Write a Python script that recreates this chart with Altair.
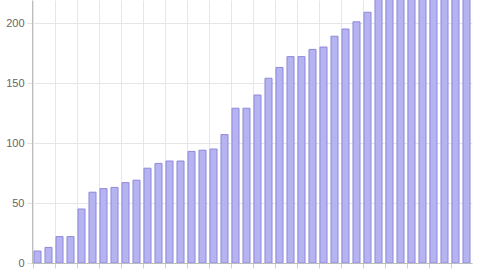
import altair as alt
import pandas as pd

categories = [f"{i+1}" for i in range(40)]
values = [10, 13, 22, 22, 45, 59, 62, 63, 67, 69,
          79, 83, 85, 85, 93, 94, 95, 107, 129, 129,
          140, 154, 163, 172, 172, 178, 180, 189, 195, 201,
          209, 221, 227, 233, 238, 244, 250, 255, 261, 268]
y_ticks = [0, 50, 100, 150, 200]

df = pd.DataFrame({"cat": categories, "val": values})

chart = alt.Chart(df).mark_bar(
    clip=True, fill="#b6b3f1", stroke="#8e88da", strokeWidth=1
).encode(
    x=alt.X("cat:N", sort=categories, title=None,
            scale=alt.Scale(paddingInner=0.36, paddingOuter=0.18),
            axis=alt.Axis(values=categories[::2], bandPosition=0, grid=True,
                          gridColor="#e6e6e6", domainColor="#bdbdbd",
                          tickColor="#d0d0d0", tickSize=5, labelAngle=0,
                          labelFontSize=11, labelColor="#666666",
                          labelPadding=2, labelFont="Liberation Sans")),
    y=alt.Y("val:Q", title=None,
            scale=alt.Scale(domain=[0, 219.2], nice=False, zero=True),
            axis=alt.Axis(values=y_ticks, grid=True, gridColor="#e6e6e6",
                          domainColor="#bdbdbd", tickColor="#e0e0e0",
                          tickSize=5, labelPadding=3, labelFontSize=11,
                          labelColor="#666666", labelFont="Liberation Sans")),
).properties(
    width=440, height=263,
    autosize=alt.AutoSizeParams(type="none"),
    padding={"left": 32, "top": 0, "right": 8, "bottom": 30},
).configure_view(stroke=None)

chart.save("out.html", embed_options={"renderer": "svg", "actions": False})
